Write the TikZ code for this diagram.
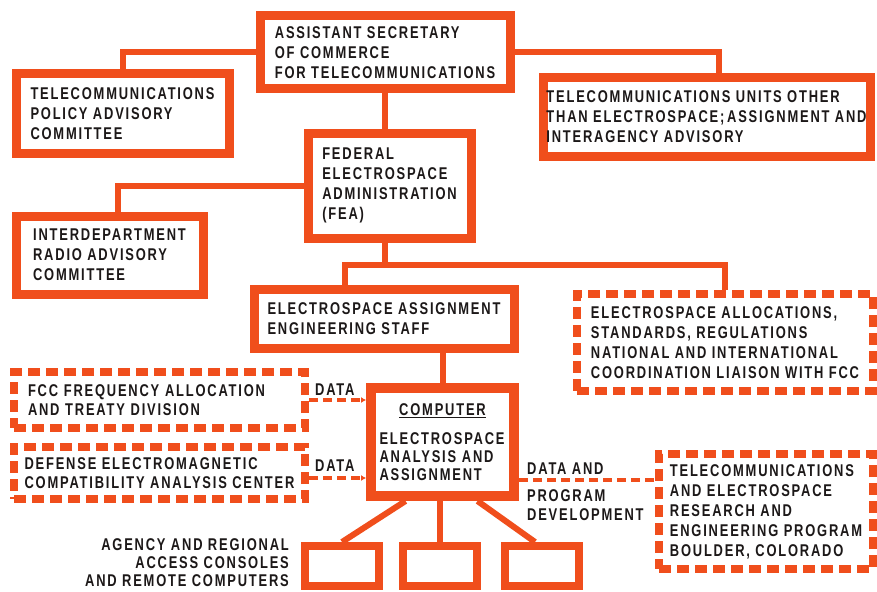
\documentclass[tikz,border=0pt]{standalone}
\usepackage{fontspec}
\newfontfamily\chartfont{Liberation Sans}[FakeStretch=0.76,LetterSpace=10.6]
\usetikzlibrary{positioning, arrows.meta}
\definecolor{orgred}{RGB}{240,78,28}
\definecolor{ink}{RGB}{28,24,24}

\tikzset{
    every node/.style={font=\chartfont\bfseries\fontsize{17}{20}\selectfont, text=ink},
    unit/.style={draw=orgred, line width=9pt, align=left, inner sep=0pt},
    outside/.style={draw=orgred, line width=8pt, dash pattern=on 12pt off 6pt, align=left, inner sep=0pt},
    console/.style={draw=orgred, line width=8pt, minimum width=74pt, minimum height=40pt},
    link/.style={draw=orgred, line width=6pt},
    datalink/.style={draw=orgred, line width=4pt, dash pattern=on 9pt off 5pt},
    note/.style={inner sep=0pt, align=left},
}

\begin{document}
\begin{tikzpicture}[x=1pt, y=-1pt]
    \fill[white] (0,0) rectangle (877,591);
    \useasboundingbox (0,0) rectangle (877,591);

    % line of authority
    \node[unit, minimum width=250pt, minimum height=73pt] (asc) at (385,52.5)
        {ASSISTANT SECRETARY\\OF COMMERCE\\FOR TELECOMMUNICATIONS};
    \node[unit, minimum width=213pt, minimum height=79pt] (tpac) at (122.5,113.5)
        {TELECOMMUNICATIONS\\POLICY ADVISORY\\COMMITTEE};
    \node[unit, minimum width=327pt, minimum height=78pt] (units) at (706.5,117)
        {TELECOMMUNICATIONS UNITS OTHER\\THAN ELECTROSPACE;\,ASSIGNMENT AND\\INTERAGENCY ADVISORY};
    \node[unit, minimum width=163pt, minimum height=105pt] (fea) at (389.5,185.5)
        {FEDERAL\\ELECTROSPACE\\ADMINISTRATION\\(FEA)};
    \node[unit, minimum width=187pt, minimum height=78pt] (irac) at (109.5,255)
        {INTERDEPARTMENT\\RADIO ADVISORY\\COMMITTEE};
    \node[unit, minimum width=260pt, minimum height=59pt] (staff) at (384,318.5)
        {ELECTROSPACE ASSIGNMENT\\ENGINEERING STAFF};
    \node[unit, line width=10pt, text width=126pt, minimum width=143pt, minimum height=108pt,
          font=\chartfont\bfseries\fontsize{17}{18}\selectfont] (comp) at (442.5,442)
        {\makebox[\linewidth]{\underline{COMPUTER}}\\[11pt]ELECTROSPACE\\ANALYSIS AND\\ASSIGNMENT};

    % outside bodies
    \node[outside, minimum width=296pt, minimum height=97pt] (alloc) at (725,342.5)
        {ELECTROSPACE ALLOCATIONS,\\STANDARDS, REGULATIONS\\NATIONAL AND INTERNATIONAL\\COORDINATION LIAISON WITH FCC};
    \node[outside, text width=263pt, inner xsep=14pt, minimum width=291pt, minimum height=56pt,
          font=\chartfont\bfseries\fontsize{17}{19}\selectfont] (fcc) at (159.5,400)
        {FCC FREQUENCY ALLOCATION\\AND TREATY DIVISION};
    \node[outside, minimum width=291pt, minimum height=52pt,
          font=\chartfont\bfseries\fontsize{17}{19}\selectfont] (ecac) at (159.5,473)
        {DEFENSE ELECTROMAGNETIC\\COMPATIBILITY ANALYSIS CENTER};
    \node[outside, minimum width=214pt, minimum height=115pt] (boulder) at (766,511.5)
        {TELECOMMUNICATIONS\\AND ELECTROSPACE\\RESEARCH AND\\ENGINEERING PROGRAM\\BOULDER, COLORADO};

    % consoles
    \node[console] (con2) at (440,566) {};
    \node[console, left=16pt of con2] (con1) {};
    \node[console, right=20pt of con2] (con3) {};
    \node[note, align=right, left=12pt of con1, yshift=3pt, font=\chartfont\bfseries\fontsize{17}{18}\selectfont] (agency)
        {AGENCY AND REGIONAL\\ACCESS CONSOLES\\AND REMOTE COMPUTERS};

    % solid links
    \coordinate (bus) at (385,265);
    \draw[link] (asc.west) -| (tpac.north);
    \draw[link] (asc.east) -| ([xshift=12pt]units.north);
    \draw[link] (asc.south) -- (asc.south |- fea.north);
    \draw[link] (fea.west) -| ([xshift=8pt]irac.north);
    \draw[link] (bus |- fea.south) -- (bus);
    \draw[link] ([xshift=-39pt]staff.north) |- (bus) -| (alloc.north);
    \draw[link] (comp.north |- staff.south) -- (comp.north);
    \draw[link] ([xshift=-37pt]comp.south) -- (con1.north);
    \draw[link] (comp.south -| con2.north) -- (con2.north);
    \draw[link] ([xshift=35pt]comp.south) -- ([xshift=-7pt]con3.north);

    % data flows
    \coordinate (tap) at ([yshift=-38pt]comp.east);
    \draw[datalink, -{Latex[length=5pt,width=6pt]}] (fcc.east) -- (fcc.east -| comp.west);
    \draw[datalink, -{Latex[length=5pt,width=6pt]}] ([yshift=-5pt]ecac.east) -- ([yshift=-5pt]ecac.east -| comp.west);
    \draw[datalink] (tap) -- (tap -| boulder.west);
    \node[note, above right=4pt and 6pt of fcc.east] (dataA) {DATA};
    \node[note, above right=1pt and 6pt of ecac.east] (dataB) {DATA};
    \node[note, above right=5pt and 8pt of tap] (dataC) {DATA AND};
    \node[note, below right=9pt and 8pt of tap, font=\chartfont\bfseries\fontsize{17}{19}\selectfont] (progdev)
        {PROGRAM\\DEVELOPMENT};
\end{tikzpicture}
\end{document}
